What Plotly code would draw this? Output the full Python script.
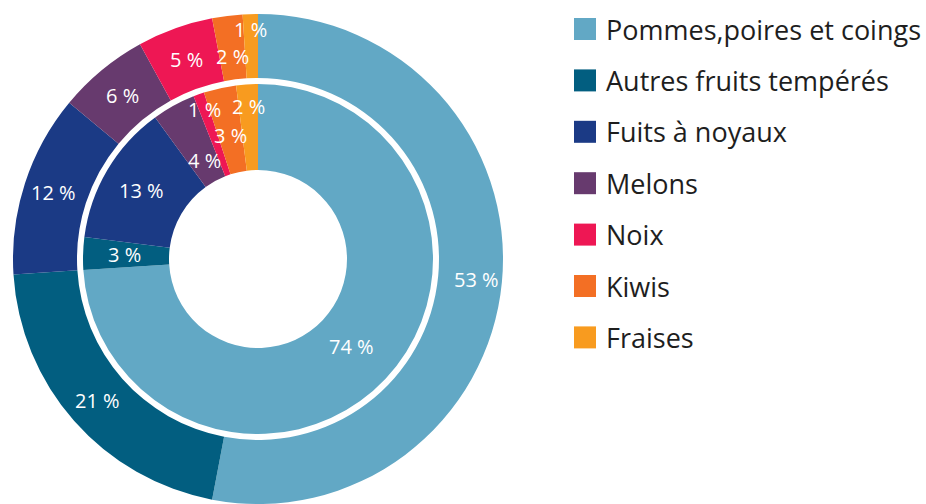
import math
import plotly.graph_objects as go

categories = ["Pommes,poires et coings", "Autres fruits tempérés", "Fuits à noyaux",
              "Melons", "Noix", "Kiwis", "Fraises"]
outer_values = [53, 21, 12, 6, 5, 2, 1]
inner_values = [74, 3, 13, 4, 1, 3, 2]
colors = ["#62a8c5", "#025e80", "#1b3a85", "#673a6e", "#ee1754", "#f36f24", "#f89b1f"]

W, H = 926, 504
CX, CY = 258, 259           # pie centre in pixels
R_OUT, HOLE_OUT = 245, 181
R_IN, HOLE_IN = 175, 89
# radial position of each percentage label (pixels from centre)
outer_label_r = [219, 214, 215, 212, 212, 204, 230]
inner_label_r = [128, 134, 135, 112, 159, 127, 153]

def dom_x(cx, r):
    return [(cx - r) / W, (cx + r) / W]

def dom_y(cy, r):
    return [max(0, (H - cy - r) / H), min(1, (H - cy + r) / H)]

fig = go.Figure()
fig.add_trace(go.Pie(
    labels=categories, values=outer_values, sort=False, direction="clockwise", rotation=0,
    hole=HOLE_OUT / R_OUT, marker=dict(colors=colors, line=dict(width=0)),
    textinfo="none", hoverinfo="label+percent", showlegend=False,
    domain=dict(x=dom_x(CX, R_OUT), y=dom_y(CY, R_OUT)),
))
fig.add_trace(go.Pie(
    labels=categories, values=inner_values, sort=False, direction="clockwise", rotation=0,
    hole=HOLE_IN / R_IN, marker=dict(colors=colors, line=dict(width=0)),
    textinfo="none", hoverinfo="label+percent", showlegend=False,
    domain=dict(x=dom_x(CX, R_IN), y=dom_y(CY, R_IN)),
))

LABEL_FONT = dict(family="Open Sans", size=20, color="white")

def add_ring_labels(values, radii):
    total = sum(values)
    cum = 0
    for v, r in zip(values, radii):
        mid = (cum + v / 2) / total * 2 * math.pi
        cum += v
        px = CX + r * math.sin(mid)
        py = CY - r * math.cos(mid)
        fig.add_annotation(x=px / W, y=1 - py / H, xref="paper", yref="paper",
                           text=f"{v} %", showarrow=False, font=LABEL_FONT,
                           xanchor="center", yanchor="middle")

add_ring_labels(outer_values, outer_label_r)
add_ring_labels(inner_values, inner_label_r)

# legend
LEG_X0, LEG_SQ, LEG_Y0, LEG_DY, LEG_TX = 574, 22, 29, 51.4, 604
for i, (name, col) in enumerate(zip(categories, colors)):
    yc = LEG_Y0 + i * LEG_DY
    fig.add_shape(type="rect", xref="paper", yref="paper",
                  x0=LEG_X0 / W, x1=(LEG_X0 + LEG_SQ) / W,
                  y0=1 - (yc + LEG_SQ / 2) / H, y1=1 - (yc - LEG_SQ / 2) / H,
                  fillcolor=col, line=dict(width=0))
    fig.add_annotation(x=LEG_TX / W, y=1 - yc / H, xref="paper", yref="paper",
                       text=name, showarrow=False, xanchor="left", yanchor="middle",
                       font=dict(family="Open Sans", size=27, color="#1e1e1e"))

fig.update_layout(width=W, height=H, margin=dict(l=0, r=0, t=0, b=0),
                  paper_bgcolor="white", plot_bgcolor="white")

fig.write_html("out.html", config={"displayModeBar": False},
               post_script="document.body.style.margin='0';document.body.style.overflow='hidden';")
